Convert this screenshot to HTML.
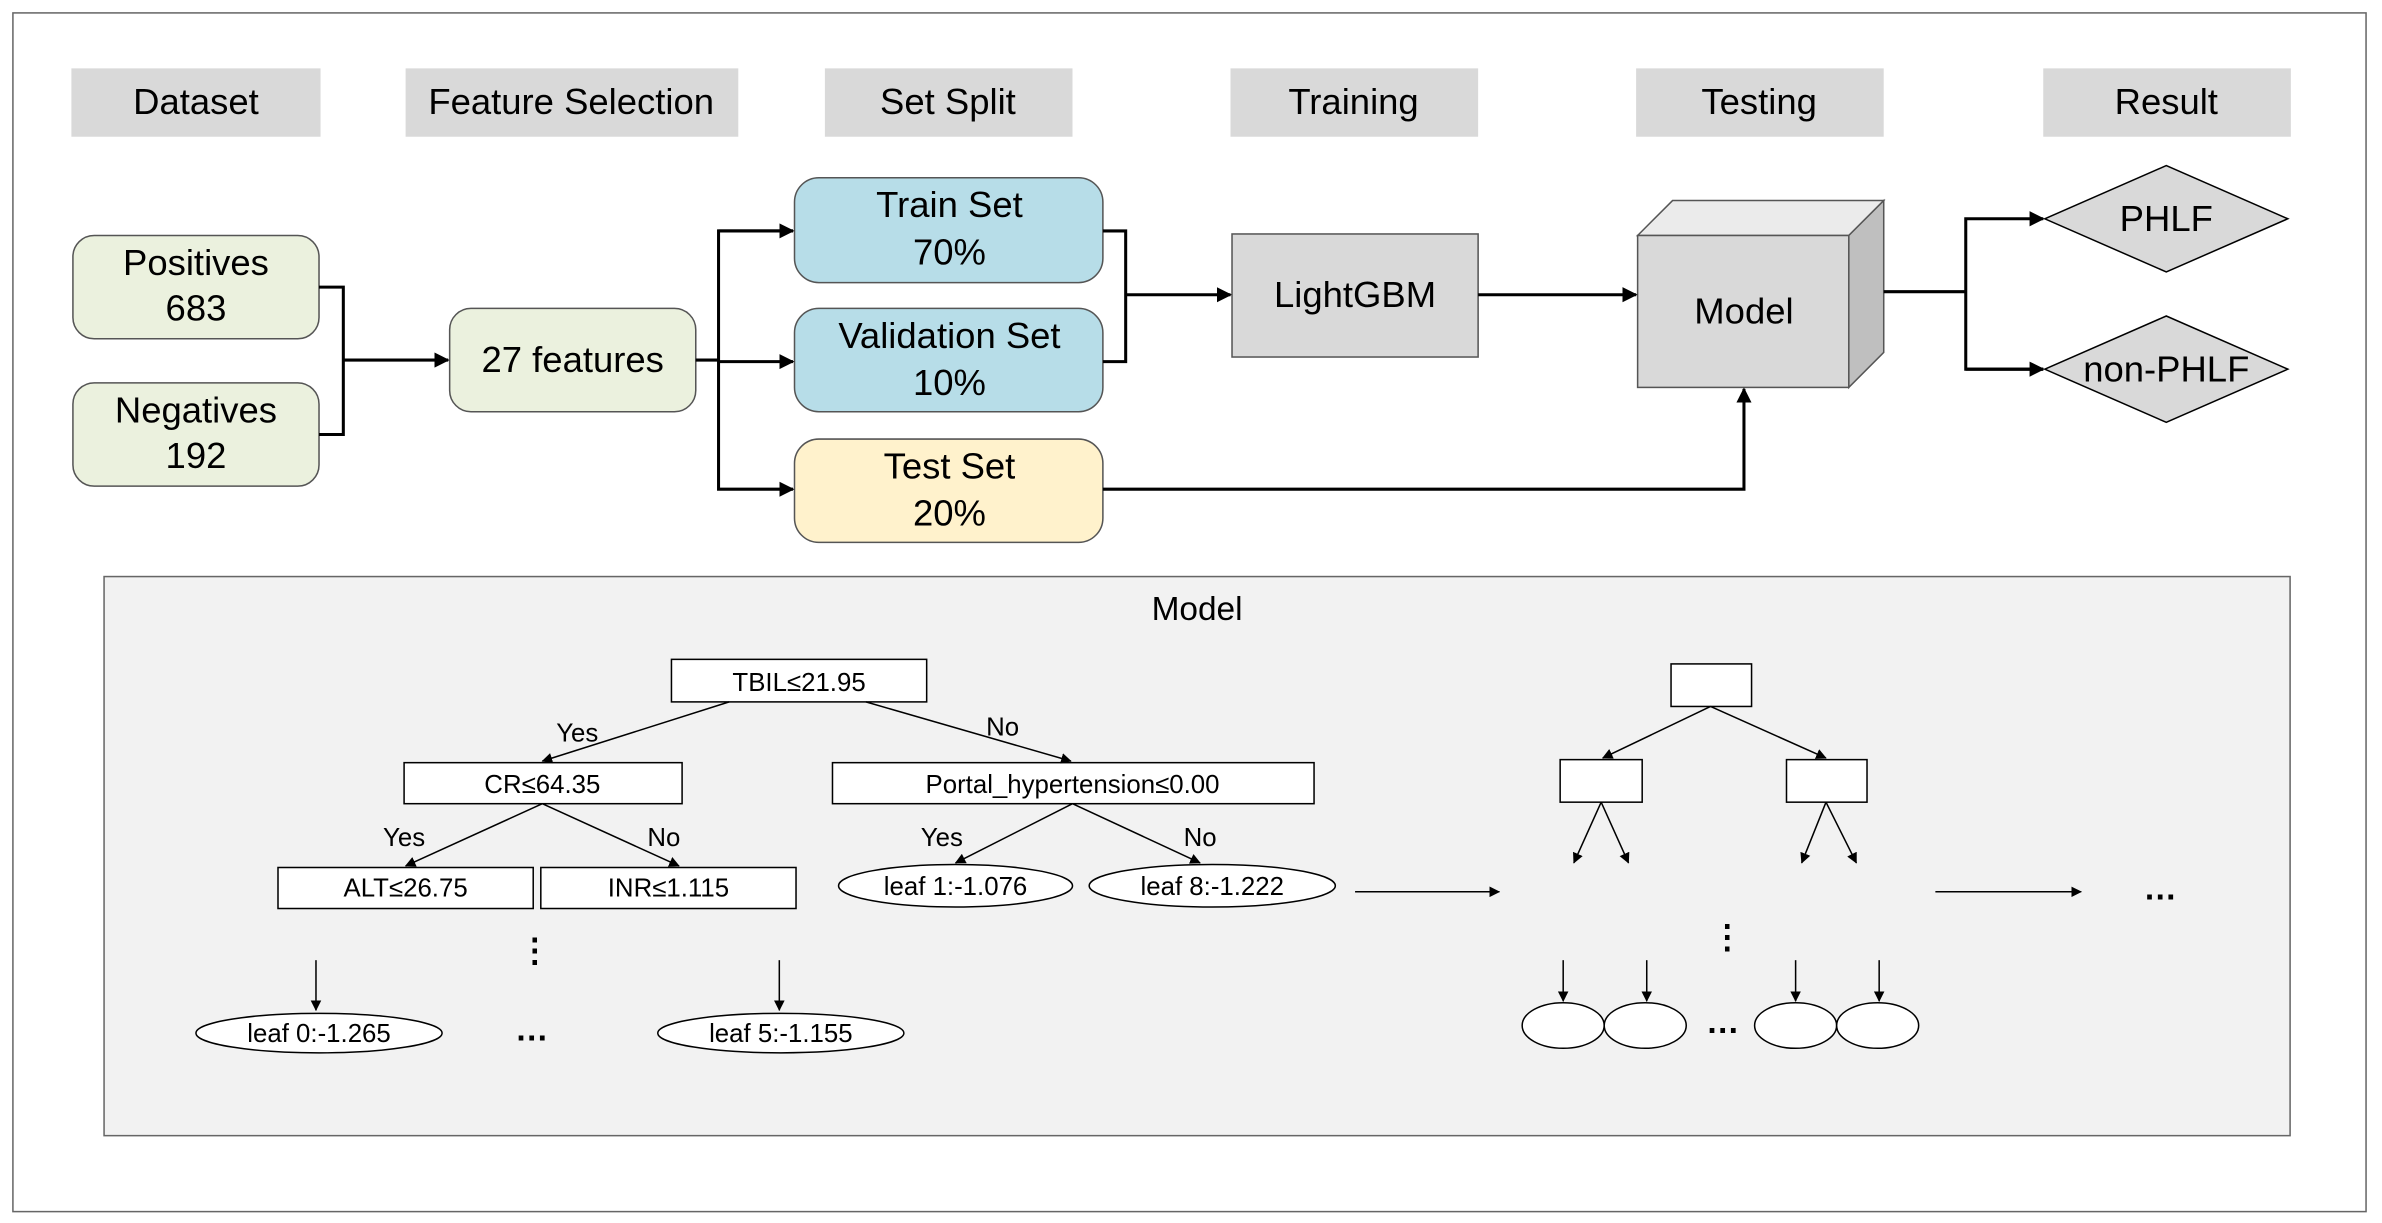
<!DOCTYPE html>
<html><head><meta charset="utf-8"><style>html,body{margin:0;padding:0;background:#fff}svg{display:block}</style></head>
<body>
<svg width="2382" height="1223" viewBox="0 0 1568 805" preserveAspectRatio="none" xmlns="http://www.w3.org/2000/svg" font-family="Liberation Sans, Arial, sans-serif">
<defs>
<marker id="a" markerWidth="10" markerHeight="10" refX="9" refY="5" orient="auto" markerUnits="userSpaceOnUse"><path d="M0,0 L10,5 L0,10z" fill="#000"/></marker>
<marker id="s" markerWidth="7" markerHeight="7" refX="6.5" refY="3.5" orient="auto" markerUnits="userSpaceOnUse"><path d="M0,0 L7,3.5 L0,7z" fill="#000"/></marker>
</defs>
<rect x="0" y="0" width="1568" height="805" fill="#fff"/>
<rect x="8.5" y="8.5" width="1549" height="789" fill="none" stroke="#666" stroke-width="1"/>
<g fill="#d9d9d9">
<rect x="47" y="45" width="164" height="45"/><rect x="267" y="45" width="219" height="45"/><rect x="543" y="45" width="163" height="45"/>
<rect x="810" y="45" width="163" height="45"/><rect x="1077" y="45" width="163" height="45"/><rect x="1345" y="45" width="163" height="45"/>
</g>
<g font-size="24" text-anchor="middle" fill="#000">
<text x="129" y="75">Dataset</text><text x="376" y="75">Feature Selection</text><text x="624" y="75">Set Split</text>
<text x="891" y="75">Training</text><text x="1158" y="75">Testing</text><text x="1426" y="75">Result</text>
</g>
<g stroke="#555" stroke-width="1">
<rect x="48" y="155" width="162" height="68" rx="14" fill="#ebf1de"/>
<rect x="48" y="252" width="162" height="68" rx="14" fill="#ebf1de"/>
<rect x="296" y="203" width="162" height="68" rx="14" fill="#ebf1de"/>
<rect x="523" y="117" width="203" height="69" rx="16" fill="#b7dde8"/>
<rect x="523" y="203" width="203" height="68" rx="16" fill="#b7dde8"/>
<rect x="523" y="289" width="203" height="68" rx="16" fill="#fff2cc"/>
<rect x="811" y="154" width="162" height="81" fill="#d9d9d9"/>
<polygon points="1078,155 1101,132 1240,132 1217,155" fill="#ebebeb"/>
<polygon points="1217,155 1240,132 1240,232 1217,255" fill="#bfbfbf"/>
<rect x="1078" y="155" width="139" height="100" fill="#d9d9d9"/>
<polygon points="1346,144 1426,109 1506,144 1426,179" fill="#d9d9d9" stroke="#000"/>
<polygon points="1346,243 1426,208 1506,243 1426,278" fill="#d9d9d9" stroke="#000"/>
</g>
<g font-size="24" text-anchor="middle" fill="#000">
<text x="129" y="181">Positives</text><text x="129" y="211">683</text>
<text x="129" y="278">Negatives</text><text x="129" y="308">192</text>
<text x="377" y="245">27 features</text>
<text x="625" y="143">Train Set</text><text x="625" y="174">70%</text>
<text x="625" y="229">Validation Set</text><text x="625" y="260">10%</text>
<text x="625" y="315">Test Set</text><text x="625" y="346">20%</text>
<text x="892" y="202">LightGBM</text>
<text x="1148" y="213">Model</text>
<text x="1426" y="152">PHLF</text>
<text x="1426" y="251">non-PHLF</text>
</g>
<g stroke="#000" stroke-width="2" fill="none">
<polyline points="210,189 226,189 226,286 210,286"/>
<line x1="226" y1="237" x2="295" y2="237" marker-end="url(#a)"/>
<line x1="458" y1="237" x2="473" y2="237"/>
<polyline points="522,152 473,152 473,322 522,322" marker-end="url(#a)"/>
<line x1="473" y1="152" x2="522" y2="152" marker-end="url(#a)"/>
<line x1="473" y1="238" x2="522" y2="238" marker-end="url(#a)"/>
<polyline points="726,152 741,152 741,238 726,238"/>
<line x1="741" y1="194" x2="810" y2="194" marker-end="url(#a)"/>
<line x1="973" y1="194" x2="1077" y2="194" marker-end="url(#a)"/>
<polyline points="726,322 1148,322 1148,256" marker-end="url(#a)"/>
<line x1="1240" y1="192" x2="1294" y2="192"/>
<polyline points="1345,243 1294,243 1294,144 1345,144" marker-end="url(#a)"/>
<line x1="1294" y1="243" x2="1345" y2="243" marker-end="url(#a)"/>
</g>
<rect x="68.5" y="379.5" width="1439" height="368" fill="#f2f2f2" stroke="#666"/>
<text x="788" y="408" font-size="22" text-anchor="middle">Model</text>
<g stroke="#000" stroke-width="1" fill="#fff">
<rect x="442" y="434" width="168" height="28"/>
<rect x="266" y="502" width="183" height="27"/>
<rect x="548" y="502" width="317" height="27"/>
<rect x="183" y="571" width="168" height="27"/>
<rect x="356" y="571" width="168" height="27"/>
<ellipse cx="629" cy="583" rx="77" ry="14"/>
<ellipse cx="798" cy="583" rx="81" ry="14"/>
<ellipse cx="210" cy="680" rx="81" ry="13"/>
<ellipse cx="514" cy="680" rx="81" ry="13"/>
<rect x="1100" y="437" width="53" height="28"/>
<rect x="1027" y="500" width="54" height="28"/>
<rect x="1176" y="500" width="53" height="28"/>
<ellipse cx="1029" cy="675" rx="27" ry="15"/>
<ellipse cx="1083" cy="675" rx="27" ry="15"/>
<ellipse cx="1182" cy="675" rx="27" ry="15"/>
<ellipse cx="1236" cy="675" rx="27" ry="15"/>
</g>
<g stroke="#000" stroke-width="1" fill="none" marker-end="url(#s)">
<line x1="480" y1="462" x2="357" y2="501"/>
<line x1="570" y1="462" x2="705" y2="501"/>
<line x1="357" y1="529" x2="267" y2="570"/>
<line x1="357" y1="529" x2="447" y2="570"/>
<line x1="706" y1="529" x2="629" y2="568"/>
<line x1="706" y1="529" x2="790" y2="568"/>
<line x1="208" y1="632" x2="208" y2="665"/>
<line x1="513" y1="632" x2="513" y2="665"/>
<line x1="892" y1="587" x2="987" y2="587"/>
<line x1="1126" y1="465" x2="1055" y2="499"/>
<line x1="1126" y1="465" x2="1202" y2="499"/>
<line x1="1054" y1="528" x2="1036" y2="568"/>
<line x1="1054" y1="528" x2="1072" y2="568"/>
<line x1="1202" y1="528" x2="1186" y2="568"/>
<line x1="1202" y1="528" x2="1222" y2="568"/>
<line x1="1029" y1="632" x2="1029" y2="659"/>
<line x1="1084" y1="632" x2="1084" y2="659"/>
<line x1="1182" y1="632" x2="1182" y2="659"/>
<line x1="1237" y1="632" x2="1237" y2="659"/>
<line x1="1274" y1="587" x2="1370" y2="587"/>
</g>
<g font-size="17" text-anchor="middle" fill="#000">
<text x="526" y="455">TBIL≤21.95</text>
<text x="357" y="522">CR≤64.35</text>
<text x="706" y="522">Portal_hypertension≤0.00</text>
<text x="267" y="590">ALT≤26.75</text>
<text x="440" y="590">INR≤1.115</text>
<text x="629" y="589">leaf 1:-1.076</text>
<text x="798" y="589">leaf 8:-1.222</text>
<text x="210" y="686">leaf 0:-1.265</text>
<text x="514" y="686">leaf 5:-1.155</text>
<text x="380" y="488">Yes</text><text x="660" y="484">No</text>
<text x="266" y="557">Yes</text><text x="437" y="557">No</text>
<text x="620" y="557">Yes</text><text x="790" y="557">No</text>
</g>
<g font-size="22" font-weight="bold" text-anchor="middle" fill="#000">
<text x="352" y="633">⋮</text><text x="350" y="685">…</text>
<text x="1137" y="624">⋮</text><text x="1134" y="680">…</text>
<text x="1422" y="592">…</text>
</g>
</svg>
</body></html>
